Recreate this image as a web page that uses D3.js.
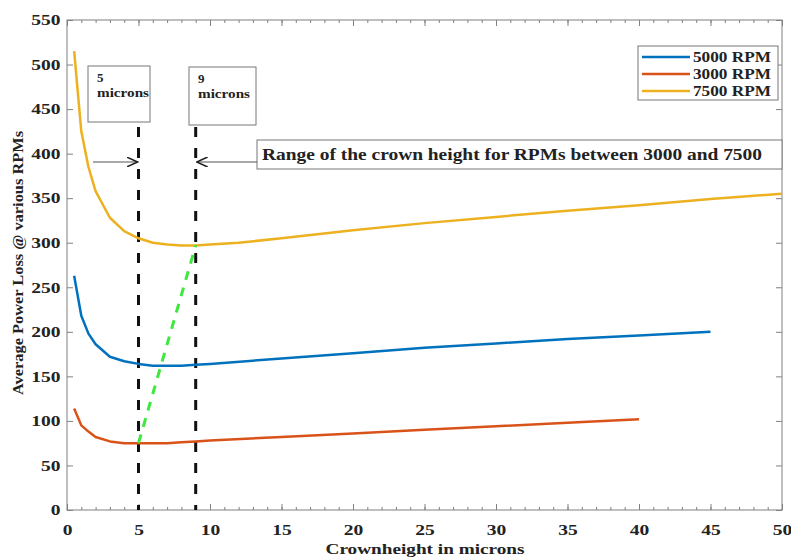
<!DOCTYPE html>
<html>
<head>
<meta charset="utf-8">
<script src="https://cdn.jsdelivr.net/npm/d3@7"></script>
<style>
  body { margin: 0; background: #fff; }
  svg text { font-family: "Liberation Serif", "Times New Roman", serif; font-weight: bold; fill: #222; }
</style>
</head>
<body>
<svg id="chart" width="791" height="558"></svg>
<script>
// values
const x7500 = [0.5, 1, 1.5, 2, 3, 4, 5, 6, 7, 8, 9, 10, 12, 15, 20, 25, 30, 35, 40, 45, 50]
const y7500 = [515, 425, 385, 358, 328, 313, 305, 300, 298, 297, 297, 298, 300, 305, 314, 322, 329, 336, 342, 349, 355]
const x5000 = [0.5, 1, 1.5, 2, 3, 4, 5, 6, 7, 8, 9, 10, 15, 20, 25, 30, 35, 40, 45]
const y5000 = [263, 218, 198, 186, 172, 167, 164, 162, 162, 162, 163, 164, 170, 176, 182, 187, 192, 196, 200]
const x3000 = [0.5, 1, 1.5, 2, 3, 4, 5, 6, 7, 8, 9, 10, 15, 20, 25, 30, 35, 40]
const y3000 = [114, 95, 88, 82, 77, 75, 75, 75, 75, 76, 77, 78, 82, 86, 90, 94, 98, 102]
const greenX = [5, 9]
const greenY = [75, 297]
const markers = [5, 9]
const seriesNames = ["5000 RPM", "3000 RPM", "7500 RPM"]
const xTicks = [0, 5, 10, 15, 20, 25, 30, 35, 40, 45, 50]
const yTicks = [0, 50, 100, 150, 200, 250, 300, 350, 400, 450, 500, 550]

const blue = "#0072bd", red = "#d95319", yellow = "#edb120"

const mLeft = 67, mRight = 782, mTop = 20, mBottom = 510
const svg = d3.select("#chart")

const xScale = d3.scaleLinear().domain([0, 50]).range([mLeft, mRight])
const yScale = d3.scaleLinear().domain([0, 550]).range([mBottom, mTop])

// frame
svg.append("rect")
  .attr("x", mLeft).attr("y", mTop)
  .attr("width", mRight - mLeft).attr("height", mBottom - mTop)
  .attr("fill", "none").attr("stroke", "#808080")

// axes with inward ticks
const minor = d3.range(0, 51, 1)
function styleAxis(g) {
  g.select(".domain").remove()
  g.selectAll("line").attr("stroke", "#808080")
}
svg.append("g").attr("transform", `translate(0,${mBottom})`)
  .call(d3.axisBottom(xScale).tickValues(minor).tickSize(-3).tickFormat(""))
  .call(styleAxis)
svg.append("g").attr("transform", `translate(0,${mTop})`)
  .call(d3.axisTop(xScale).tickValues(minor).tickSize(-3).tickFormat(""))
  .call(styleAxis)
svg.append("g").attr("transform", `translate(0,${mTop})`)
  .call(d3.axisTop(xScale).tickValues(xTicks).tickSize(-6).tickFormat(""))
  .call(styleAxis)
svg.append("g").attr("transform", `translate(${mRight},0)`)
  .call(d3.axisRight(yScale).tickValues(yTicks).tickSize(-6).tickFormat(""))
  .call(styleAxis)

const xAxis = svg.append("g").attr("transform", `translate(0,${mBottom})`)
  .call(d3.axisBottom(xScale).tickValues(xTicks).tickSize(-6).tickPadding(14))
  .call(styleAxis)
xAxis.selectAll("text")
  .attr("font-size", 15).attr("fill", "#222")
  .attr("font-family", "Liberation Serif").attr("font-weight", "bold")
  .attr("transform", "scale(1.3,1)")

const yAxis = svg.append("g").attr("transform", `translate(${mLeft},0)`)
  .call(d3.axisLeft(yScale).tickValues(yTicks).tickSize(-6).tickPadding(5))
  .call(styleAxis)
yAxis.selectAll("text")
  .attr("font-size", 15).attr("fill", "#222")
  .attr("font-family", "Liberation Serif").attr("font-weight", "bold")
  .attr("transform", "scale(1.3,1)")

// axis titles
svg.append("text")
  .attr("x", 425).attr("y", 554)
  .attr("text-anchor", "middle").attr("font-size", 15)
  .attr("textLength", 199).attr("lengthAdjust", "spacingAndGlyphs")
  .text("Crownheight in microns")
svg.append("text")
  .attr("transform", "translate(23,263) rotate(-90)")
  .attr("text-anchor", "middle").attr("font-size", 15)
  .attr("textLength", 264).attr("lengthAdjust", "spacingAndGlyphs")
  .text("Average Power Loss @ various RPMs")

// vertical dashed markers
svg.selectAll("line.marker")
  .data(markers)
  .enter()
  .append("line")
  .attr("class", "marker")
  .attr("x1", d => xScale(d)).attr("x2", d => xScale(d))
  .attr("y1", 127).attr("y2", mBottom)
  .attr("stroke", "#111").attr("stroke-width", 3)
  .attr("stroke-dasharray", "10,11")

// curves
const line = d3.line().x(d => xScale(d[0])).y(d => yScale(d[1]))
const series = [
  { name: seriesNames[0], color: blue, pts: d3.zip(x5000, y5000) },
  { name: seriesNames[1], color: red, pts: d3.zip(x3000, y3000) },
  { name: seriesNames[2], color: yellow, pts: d3.zip(x7500, y7500) }
]
svg.selectAll("path.curve")
  .data(series)
  .enter()
  .append("path")
  .attr("class", "curve")
  .attr("d", d => line(d.pts))
  .attr("fill", "none")
  .attr("stroke", d => d.color)
  .attr("stroke-width", 2.5)
  .attr("stroke-linejoin", "round")

// green dashed link
svg.append("path")
  .attr("d", line(d3.zip(greenX, greenY)))
  .attr("fill", "none")
  .attr("stroke", "#3ee83e").attr("stroke-width", 3)
  .attr("stroke-dasharray", "9,8")

// legend
svg.append("rect")
  .attr("x", 638).attr("y", 46).attr("width", 140).attr("height", 54)
  .attr("fill", "#fff").attr("stroke", "#777")
const legendY = [57, 74, 91]
series.forEach((s, i) => {
  svg.append("line")
    .attr("x1", 642).attr("x2", 690)
    .attr("y1", legendY[i]).attr("y2", legendY[i])
    .attr("stroke", s.color).attr("stroke-width", 2.5)
  svg.append("text")
    .attr("x", 693).attr("y", legendY[i] + 5)
    .attr("font-size", 14)
    .attr("textLength", 78).attr("lengthAdjust", "spacingAndGlyphs")
    .text(s.name)
})

// annotation boxes
const boxes = [
  { x: 88, y: 66, w: 62, h: 56, num: "5" },
  { x: 189, y: 67, w: 67, h: 58, num: "9" }
]
boxes.forEach(b => {
  svg.append("rect")
    .attr("x", b.x).attr("y", b.y).attr("width", b.w).attr("height", b.h)
    .attr("fill", "#fff").attr("stroke", "#777")
  svg.append("text")
    .attr("x", b.x + 9).attr("y", b.y + 16)
    .attr("font-size", 13).text(b.num)
  svg.append("text")
    .attr("x", b.x + 9).attr("y", b.y + 31)
    .attr("font-size", 13)
    .attr("textLength", 52).attr("lengthAdjust", "spacingAndGlyphs")
    .text("microns")
})

svg.append("rect")
  .attr("x", 257).attr("y", 140).attr("width", 525).attr("height", 29)
  .attr("fill", "#fff").attr("stroke", "#777")
svg.append("text")
  .attr("x", 262).attr("y", 160)
  .attr("font-size", 16)
  .attr("textLength", 500).attr("lengthAdjust", "spacingAndGlyphs")
  .text("Range of the crown height for RPMs between 3000 and 7500")

// arrows
svg.append("defs").append("marker")
  .attr("id", "head")
  .attr("viewBox", "0 0 12 10")
  .attr("refX", 11).attr("refY", 5)
  .attr("markerWidth", 12).attr("markerHeight", 10)
  .attr("markerUnits", "userSpaceOnUse")
  .attr("orient", "auto")
  .append("path")
  .attr("d", "M0,0 L11,5 L0,10")
  .attr("fill", "none").attr("stroke", "#222").attr("stroke-width", 1.6)

svg.append("line")
  .attr("x1", 93).attr("y1", 162).attr("x2", xScale(markers[0]) - 1).attr("y2", 162)
  .attr("stroke", "#555").attr("stroke-width", 1.2)
  .attr("marker-end", "url(#head)")
svg.append("line")
  .attr("x1", 257).attr("y1", 162).attr("x2", xScale(markers[1]) + 1).attr("y2", 162)
  .attr("stroke", "#555").attr("stroke-width", 1.2)
  .attr("marker-end", "url(#head)")
</script>
</body>
</html>
